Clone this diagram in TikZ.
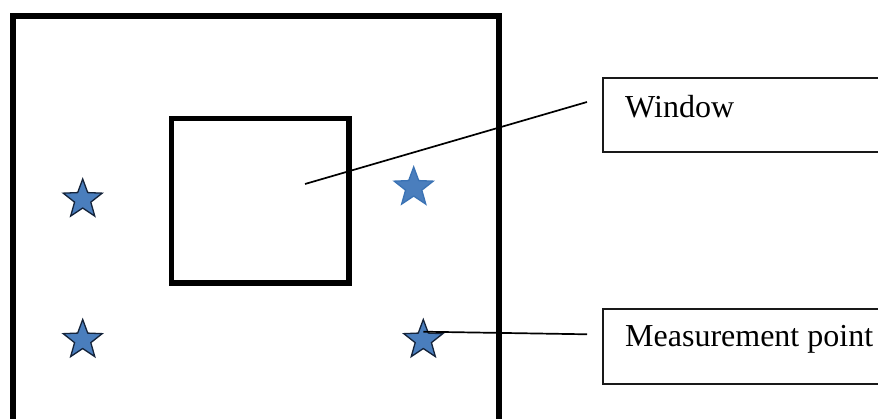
\documentclass[tikz,border=0pt]{standalone}
\usepackage{fontspec}
\setmainfont{Liberation Serif}
\usetikzlibrary{shapes.geometric}
\definecolor{starfill}{HTML}{4A7EBD}
\definecolor{starblue}{HTML}{3A72B4}
\definecolor{stardark}{HTML}{14233A}
\tikzset{
  wall/.style={draw=black,line width=5.5pt,fill=none,inner sep=0pt,outer sep=0pt,miter limit=10},
  pointstar/.style={star,star points=5,star point ratio=2.4,minimum size=41pt,inner sep=0pt,outer sep=0pt,fill=starfill,draw=stardark,line width=1.3pt},
  bluestar/.style={pointstar,draw=starblue},
  leader/.style={draw=black,line width=1.7pt},
  labelbox/.style={draw=black!90,line width=1.8pt,fill=white,anchor=north west,minimum width=330pt,inner sep=0pt,outer sep=0pt},
  labeltext/.style={anchor=base west,inner sep=0pt,font=\fontsize{32}{36}\selectfont}
}
\begin{document}
\begin{tikzpicture}[x=1pt,y=-1pt]
\useasboundingbox (0,0) rectangle (878,419);
\fill[white] (0,0) rectangle (878,419);
\clip (0,0) rectangle (878,419);
\node[wall,rectangle,anchor=north west,minimum width=486pt,minimum height=460pt] (room) at (13,16) {};
\node[wall,rectangle,anchor=north west,minimum width=177.5pt,minimum height=164.5pt] (window) at (171.5,118.5) {};
\node[pointstar] (s1) at (82.7,199.5) {};
\node[pointstar] (s2) at (82.7,340) {};
\node[bluestar] (s3) at (413.7,187.5) {};
\node[pointstar] (s4) at (423.3,340) {};
\node[labelbox,minimum height=73.4pt] (b1) at (602.7,78.3) {};
\node[labelbox,minimum height=74.4pt] (b2) at (602.7,309.3) {};
\node[labeltext] (t1) at (625,118) {Window};
\node[labeltext] (t2) at (625,346.7) {Measurement point};
\coordinate (w) at (305,184);
\coordinate (e1) at (587,102);
\coordinate (m) at (423.3,331.7);
\coordinate (e2) at (587,334.3);
\draw[leader] (w) -- (e1);
\draw[leader] (m) -- (e2);
\end{tikzpicture}
\end{document}
